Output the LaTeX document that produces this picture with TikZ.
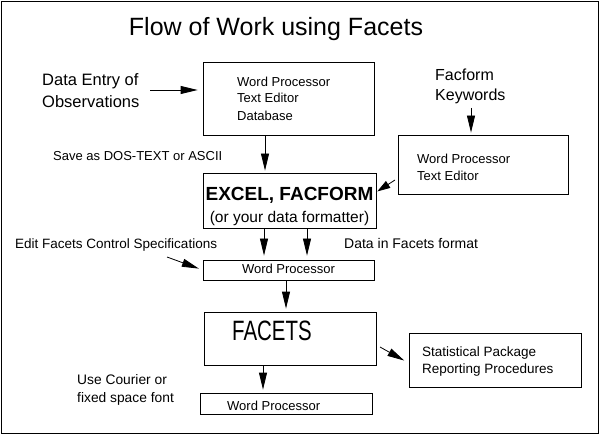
\documentclass[tikz,border=0pt]{standalone}
\usepackage{fontspec}
\setmainfont{Liberation Sans}
\usetikzlibrary{arrows.meta}
\newcommand{\fsz}[1]{\fontsize{#1}{#1}\selectfont}
\begin{document}
\begin{tikzpicture}[x=1pt,y=-1pt,
  box/.style={draw, line width=0.8pt, inner sep=0pt},
  txt/.style={inner sep=0pt, anchor=west, text height=0.716em, text depth=0pt},
  arr/.style={-{Triangle[length=17pt,width=8pt]}, line width=0.8pt},
  sarr/.style={-{Triangle[length=13pt,width=8pt]}, line width=0.8pt}]
\useasboundingbox (0,0) rectangle (601,435);
\draw[line width=0.8pt] (1,1) rectangle (598,433);

% title
\node[txt, anchor=center, font=\fsz{25}] (title) at (276,32) {Flow of Work using Facets};

% boxes
\node[box, minimum width=171pt, minimum height=73pt] (b1) at (288.5,98.5) {};
\node[box, minimum width=170pt, minimum height=59pt] (b2) at (483,164.5) {};
\node[box, minimum width=173pt, minimum height=55pt] (b3) at (289.5,200.5) {};
\node[box, minimum width=171pt, minimum height=20pt] (b4) at (288.5,270) {};
\node[box, minimum width=172pt, minimum height=53pt] (b5) at (290,338.5) {};
\node[box, minimum width=172pt, minimum height=54pt] (b6) at (495,360) {};
\node[box, minimum width=172pt, minimum height=21pt] (b7) at (286,403.5) {};

% free texts
\node[txt, font=\fsz{16.5}] (de1) at (42,82) {Data Entry of};
\node[txt, font=\fsz{16.5}] (de2) at (42,104) {Observations};
\node[txt, font=\fsz{16}] (kw1) at (435,77) {Facform};
\node[txt, font=\fsz{16}] (kw2) at (435,97) {Keywords};
\node[txt, font=\fsz{13}] (save) at (53,157) {Save as DOS-TEXT or ASCII};
\node[txt, font=\fsz{13.5}] (edit) at (15,245) {Edit Facets Control Specifications};
\node[txt, font=\fsz{14}] (dif) at (344,245) {Data in Facets format};
\node[txt, font=\fsz{13.8}] (uc1) at (77,381) {Use Courier or};
\node[txt, font=\fsz{13.8}] (uc2) at (77,399) {fixed space font};

% box texts
\node[txt, font=\fsz{13}] (t11) at (237,83) {Word Processor};
\node[txt, font=\fsz{13}] (t12) at (237,99) {Text Editor};
\node[txt, font=\fsz{13}] (t13) at (237,117) {Database};
\node[txt, font=\fsz{13}] (t21) at (417,160) {Word Processor};
\node[txt, font=\fsz{13}] (t22) at (417,177) {Text Editor};
\node[txt, anchor=center, font=\bfseries\fsz{19}] (t31) at (289.5,197) {EXCEL, FACFORM};
\node[txt, anchor=center, font=\fsz{15.5}] (t32) at (289.5,219) {(or your data formatter)};
\node[txt, anchor=center, font=\fsz{13}] (t41) at (288.5,270) {Word Processor};
\node[txt, font=\fsz{28}] (t51) at (232,337) {\scalebox{0.73}[1]{FACETS}};
\node[txt, font=\fsz{13.5}] (t61) at (422,353) {Statistical Package};
\node[txt, font=\fsz{13.5}] (t62) at (422,370) {Reporting Procedures};
\node[txt, font=\fsz{13}] (t71) at (227,407) {Word Processor};

% connectors
\coordinate (p1) at (150,90);
\draw[arr, shorten >=5pt] (p1) -- (p1 -| b1.west);
\draw[arr, shorten >=2pt] (265,0 |- b1.south) -- (265,0 |- b3.north);
\coordinate (p3) at (471,108);
\draw[arr, shorten >=2pt] (p3) -- (p3 |- b2.north);
\coordinate (p4) at (395,180);
\draw[sarr, shorten >=1pt] (p4) -- (b3.east |- 0,192);
\draw[arr, shorten >=4pt] (264,0 |- b3.south) -- (264,0 |- b4.north);
\draw[arr, shorten >=4pt] (307,0 |- b3.south) -- (307,0 |- b4.north);
\coordinate (p6) at (167,257);
\draw[arr, shorten >=4pt] (p6) -- (b4.west);
\draw[arr, shorten >=3pt] (286,0 |- b4.south) -- (286,0 |- b5.north);
\coordinate (p8) at (380,347);
\draw[arr, shorten >=5pt] (p8) -- (b6.west |- 0,363);
\draw[arr, shorten >=3pt] (263,0 |- b5.south) -- (263,0 |- b7.north);
\end{tikzpicture}
\end{document}
